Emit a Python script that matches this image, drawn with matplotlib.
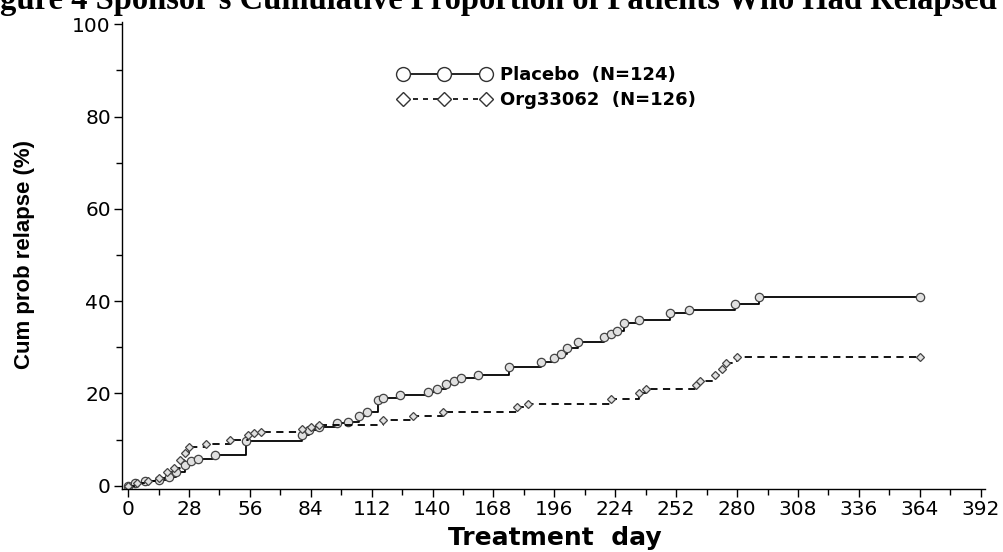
import matplotlib
matplotlib.use("Agg")
import matplotlib.pyplot as plt
from matplotlib.ticker import MultipleLocator

# Placebo: event day, cumulative relapse (%)
placebo_day = [0, 3, 8, 14, 19, 22, 26, 29, 32, 40, 54, 80, 83, 88, 96, 101, 106, 110,
               115, 117, 125, 138, 142, 146, 150, 153, 161, 175, 190, 196, 199, 202,
               207, 219, 222, 225, 228, 235, 249, 258, 279, 290, 364]
placebo_pct = [0, 0.5, 1.0, 1.3, 2.0, 3.0, 4.5, 5.4, 5.8, 6.7, 9.8, 11.0, 12.0, 12.8,
               13.5, 13.9, 15.2, 16.0, 18.6, 19.0, 19.7, 20.3, 21.0, 22.0, 22.7, 23.4,
               24.0, 25.8, 26.8, 27.7, 28.6, 29.9, 31.2, 32.3, 32.9, 33.6, 35.3, 36.0,
               37.4, 38.0, 39.4, 41.0, 41.0]

# Org33062
org_day = [0, 4, 9, 14, 18, 21, 24, 26, 28, 36, 47, 55, 58, 61, 80, 84, 88, 117, 131,
           145, 179, 184, 222, 235, 238, 261, 263, 270, 273, 275, 280, 364]
org_pct = [0, 0.6, 1.1, 1.6, 3.0, 3.8, 5.5, 7.0, 8.5, 9.0, 10.0, 11.0, 11.5, 11.7, 12.3,
           12.8, 13.2, 14.3, 15.2, 16.0, 17.0, 17.8, 18.8, 20.2, 21.0, 21.8, 22.8, 24.0,
           25.2, 26.5, 28.0, 28.0]

x_ticks = list(range(0, 393, 28))
y_ticks = [0, 20, 40, 60, 80, 100]

title = "Figure 4 Sponsor's Cumulative Proportion of Patients Who Had Relapsed"

fig = plt.figure(figsize=(10.04, 5.52), dpi=100)
ax = fig.add_axes([122 / 1004, 1 - 489 / 552, (985 - 122) / 1004, (489 - 22) / 552])

ax.plot(placebo_day, placebo_pct, drawstyle="steps-post", color="black", lw=1.3)
ax.plot(placebo_day, placebo_pct, ls="none", marker="o", ms=6, mfc="#e0e0e0",
        mec="#444444", mew=0.9)
ax.plot(org_day, org_pct, drawstyle="steps-post", color="black", lw=1.3, ls=(0, (4, 3)))
ax.plot(org_day, org_pct, ls="none", marker="D", ms=4.5, mfc="#e0e0e0",
        mec="#444444", mew=0.9)

# legend handles with markers along the line
h1, = ax.plot([], [], color="black", lw=1.2, marker="o", ms=10, mfc="white", mec="#333333")
h2, = ax.plot([], [], color="black", lw=1.2, ls=(0, (3, 3)), marker="D", ms=7.5,
              mfc="white", mec="#333333")
ax.legend([h1, h2], ["Placebo  (N=124)", "Org33062  (N=126)"], loc="upper left",
          bbox_to_anchor=(0.3, 0.94), frameon=False, numpoints=3, handlelength=5.2,
          handletextpad=0.5, labelspacing=0.4,
          prop={"family": "DejaVu Sans", "weight": "bold", "size": 13})

ax.set_xlim(-2.8, 394)
ax.set_ylim(-0.7, 100.5)
ax.set_xticks(x_ticks)
ax.set_yticks(y_ticks)
ax.xaxis.set_minor_locator(MultipleLocator(14))
ax.yaxis.set_minor_locator(MultipleLocator(10))
ax.spines["top"].set_visible(False)
ax.spines["right"].set_visible(False)
for s in ("left", "bottom"):
    ax.spines[s].set_linewidth(1.0)
ax.tick_params(which="major", length=6, width=1.0, labelsize=14.5, pad=2)
ax.tick_params(which="minor", length=4, width=1.0)
for lab in ax.get_xticklabels() + ax.get_yticklabels():
    lab.set_family("DejaVu Sans")

fig.text(25 / 1004, 1 - 255 / 552, "Cum prob relapse (%)", rotation=90, ha="center",
         va="center", fontsize=16, fontweight="bold", family="Liberation Sans")
fig.text(555 / 1004, 1 - 538 / 552, "Treatment  day", ha="center", va="center",
         fontsize=18, fontweight="bold", family="DejaVu Sans")

fig.text(-29 / 1004, 1 - 9 / 552, title, ha="left", va="baseline", fontsize=23.5,
         fontweight="bold", family="Liberation Serif")

fig.savefig("out.png", dpi=100)
